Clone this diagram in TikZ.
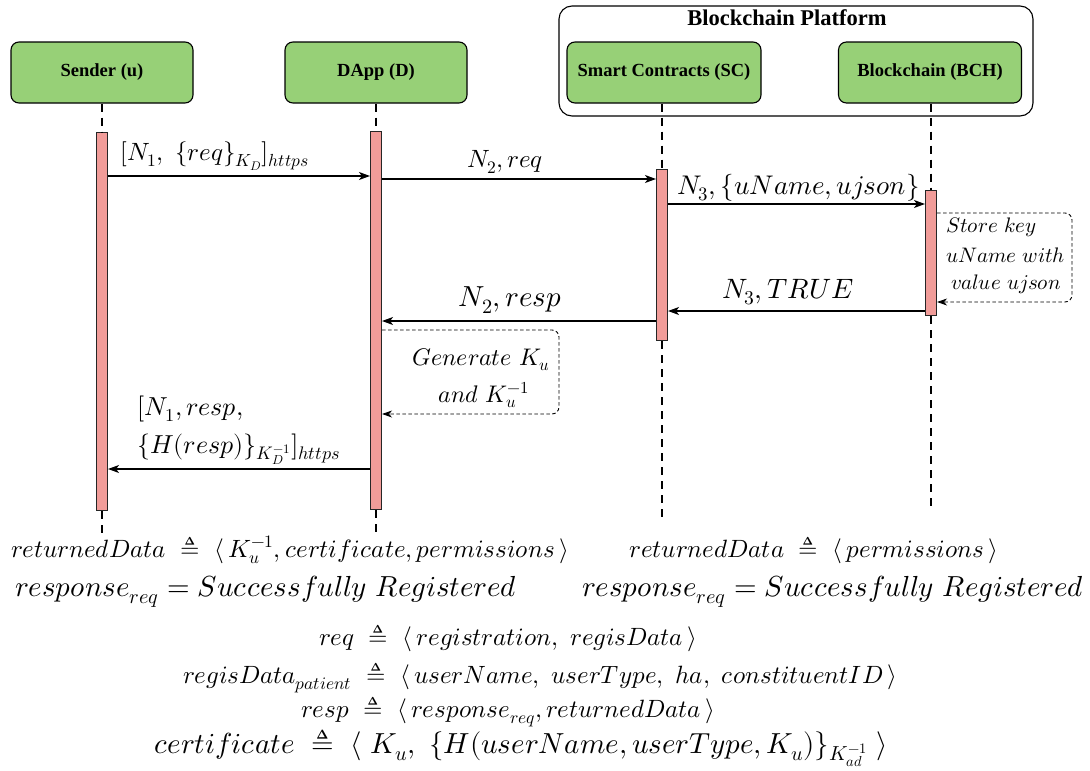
\documentclass[tikz,border=0pt]{standalone}
\usepackage{fontspec}
\usepackage{unicode-math}
\setmathfont{Latin Modern Math}
\newfontfamily\boxfont{Liberation Serif}
\usetikzlibrary{arrows.meta,calc}
\definecolor{boxgreen}{HTML}{97D077}
\definecolor{barpink}{HTML}{F19C99}
\newcommand{\fs}[1]{\fontsize{#1}{#1}\selectfont}
\newcommand{\deq}{\triangleq}
\begin{document}
\begin{tikzpicture}[x=1pt,y=-1pt,
  actor/.style={draw=black, line width=1.1pt, fill=boxgreen, rounded corners=8pt,
    minimum height=61pt, inner sep=0pt, font=\boxfont\bfseries\fs{18.5}},
  bar/.style={draw=black!85, line width=1.1pt, fill=barpink, minimum width=11pt,
    inner sep=0pt, anchor=north},
  life/.style={dash pattern=on 8pt off 6pt, line width=2.4pt},
  msg/.style={-{Stealth[length=11pt,width=8pt,inset=3pt]}, line width=1.1pt},
  selfm/.style={draw=black, dash pattern=on 3.5pt off 2.5pt, line width=0.9pt, rounded corners=7pt,
    -{Stealth[length=10pt,width=7pt,inset=3pt]}},
  lab/.style={inner sep=0pt, font=\fs{#1}},
]
\useasboundingbox (0,0) rectangle (1090,771);

% platform
\node[draw, line width=1.1pt, rounded corners=13pt, minimum width=474pt, minimum height=110pt,
  inner sep=0pt] (plat) at (796,61) {};
\node[inner sep=0pt, anchor=base, font=\boxfont\bfseries\fs{22.5}] (platt) at (787,25) {Blockchain Platform};

% actors
\node[actor, minimum width=182pt] (snd) at (102,72.5) {Sender (u)};
\node[actor, minimum width=182pt] (dap) at (376,72.5) {DApp (D)};
\node[actor, minimum width=194pt] (sc) at (664,72.5) {Smart Contracts (SC)};
\node[actor, minimum width=183pt] (bch) at (930,72.5) {Blockchain (BCH)};

% activation bars
\node[bar, minimum height=378pt] (bS) at (102,132) {};
\node[bar, minimum height=378pt] (bD) at (376,131) {};
\node[bar, minimum height=171pt] (bSC) at (662,169) {};
\node[bar, minimum height=125pt] (bB) at (931,190) {};

% lifeline ends
\coordinate (eS) at (102,537);
\coordinate (eD) at (376,537);
\coordinate (eSC) at (662,523);
\coordinate (eB) at (931,512);

\draw[life] (snd.south) -- (bS.north);
\draw[life] (bS.south) -- (eS);
\draw[life] (dap.south) -- (bD.north);
\draw[life] (bD.south) -- (eD);
\draw[life] (sc.south -| bSC.north) -- (bSC.north);
\draw[life] (bSC.south) -- (eSC);
\draw[life] (bch.south -| bB.north) -- (bB.north);
\draw[life] (bB.south) -- (eB);

% message levels
\coordinate (y1) at (0,176);
\coordinate (y2) at (0,179);
\coordinate (y3) at (0,204);
\coordinate (y5) at (0,311);
\coordinate (y6) at (0,321);
\coordinate (y8) at (0,469);

\draw[msg] (bS.east |- y1) -- (bD.west |- y1);
\draw[msg] (bD.east |- y2) -- (bSC.west |- y2);
\draw[msg] (bSC.east |- y3) -- (bB.west |- y3);
\draw[msg] (bB.west |- y5) -- (bSC.east |- y5);
\draw[msg] (bSC.west |- y6) -- (bD.east |- y6);
\draw[msg] (bD.west |- y8) -- (bS.east |- y8);

% self messages
\coordinate (sb1) at (1072,213);
\coordinate (sb2) at (1072,302);
\draw[selfm] (bB.east |- sb1) -- (sb1) -- (sb2) -- (bB.east |- sb2);
\coordinate (sd1) at (559,330);
\coordinate (sd2) at (559,414);
\draw[selfm] (bD.east |- sd1) -- (sd1) -- (sd2) -- (bD.east |- sd2);

% message labels
\node[lab=25, anchor=base west] (l1) at (120,160) {$[N_1,\ \{req\}_{K_D}]_{https}$};
\node[lab=25, anchor=base] (l2) at (505,167) {$N_2, req$};
\node[lab=27, anchor=base west] (l3) at (677,194) {$N_3, \{uName, ujson\}$};
\node[lab=28, anchor=base] (l5) at (788,298) {$N_3, TRUE$};
\node[lab=29, anchor=base] (l6) at (510,306) {$N_2, resp$};
\node[lab=21, anchor=base west] (st1) at (946,232) {$Store\ key$};
\node[lab=21, anchor=base west] (st2) at (946,262) {$uName\ with$};
\node[lab=21, anchor=base west] (st3) at (951,289) {$value\ ujson$};
\node[lab=24, anchor=base] (g1) at (481,365) {$Generate\ K_u$};
\node[lab=24, anchor=base] (g2) at (484,402) {$and\ K_u^{-1}$};
\node[lab=26, anchor=base west] (r1) at (137,415) {$[N_1, resp,$};
\node[lab=26, anchor=base west] (r2) at (137,453) {$\{H(resp)\}_{K_D^{-1}}]_{https}$};

% bottom definitions
\node[lab=25, anchor=base] (d1) at (290,557) {$returnedData\ \deq\ \langle\, K_u^{-1}, certificate, permissions\, \rangle$};
\node[lab=29, anchor=base] (d2) at (266,596) {$response_{req} = Successfully\ Registered$};
\node[lab=25, anchor=base] (d3) at (814,557) {$returnedData\ \deq\ \langle\, permissions\, \rangle$};
\node[lab=29, anchor=base] (d4) at (833,596) {$response_{req} = Successfully\ Registered$};
\node[lab=25, anchor=base] (d5) at (508,645) {$req\ \deq\ \langle\, registration,\ regisData\, \rangle$};
\node[lab=25, anchor=base] (d6) at (540,683) {$regisData_{patient}\ \deq\ \langle\, userName,\ userType,\ ha,\ constituentID\, \rangle$};
\node[lab=25, anchor=base] (d7) at (508,717) {$resp\ \deq\ \langle\, response_{req}, returnedData\, \rangle$};
\node[lab=29, anchor=base] (d8) at (521,753) {$certificate\ \deq\ \langle\ K_u,\ \{H(userName, userType, K_u)\}_{K_{ad}^{-1}}\ \rangle$};
\end{tikzpicture}
\end{document}
